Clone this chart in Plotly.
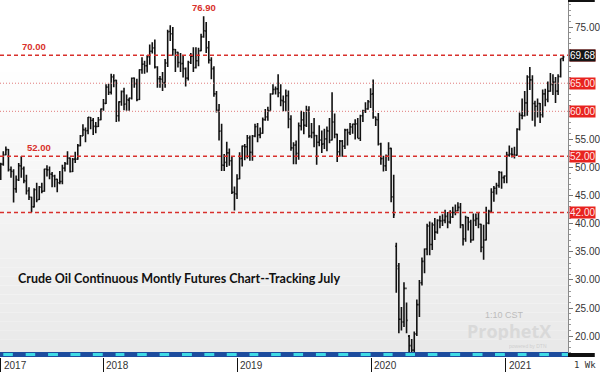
import pandas as pd
import plotly.graph_objects as go

# ---- weekly OHLC (Crude Oil continuous, tracking July) ----
first_week = "2017-03-27"

open_ = [
    # 2017
    47.9, 50.6, 52.3, 53.2, 49.6, 49.3, 46.2, 47.8, 50.3, 49.8, 47.6, 45.9, 44.7, 43.0, 46.1, 44.3, 46.5, 45.8, 49.7, 49.6,
    48.8, 48.5, 47.9, 47.3, 47.5, 49.9, 50.7, 51.7, 49.3, 51.5, 51.5, 53.9, 55.6, 56.7, 56.6, 58.9, 58.4, 57.3, 57.3, 58.5,
    # 2018
    60.4, 61.4, 64.3, 63.4, 66.1, 65.5, 59.2, 61.7, 63.5, 61.3, 62.0, 62.3, 65.9, 64.9, 62.1, 67.4, 68.4, 68.1, 69.7, 70.7,
    71.3, 67.9, 65.8, 65.7, 65.1, 68.6, 74.2, 73.8, 71.0, 70.5, 68.7, 68.5, 67.6, 65.9, 68.7, 69.8, 67.8, 69.0, 70.8, 73.3,
    74.3, 71.3, 69.1, 67.6, 63.1, 60.2, 56.5, 50.4, 50.9, 52.6, 51.2, 45.6, 45.3,
    # 2019
    48.0, 51.6, 53.8, 53.7, 55.3, 52.7, 55.6, 57.3, 55.8, 56.1, 58.5, 59.0, 60.1, 63.1, 63.9, 64.0, 63.3, 61.9, 61.7, 62.8,
    58.6, 53.5, 54.0, 52.5, 57.4, 58.5, 57.5, 60.2, 55.6, 56.2, 55.7, 54.5, 54.9, 54.2, 55.1, 56.5, 54.9, 58.1, 55.9, 52.8,
    54.7, 53.8, 56.7, 56.2, 57.2, 57.7, 57.8, 55.2, 59.2, 60.1, 60.4, 61.7,
    # 2020
    63.1, 59.0, 58.5, 54.2, 51.6, 50.3, 52.1, 53.4, 44.8, 36.0, 32.0, 23.0, 22.5, 28.5, 20.0, 18.3, 17.5, 20.4, 25.6, 29.5,
    33.3, 35.5, 39.6, 36.3, 39.8, 38.5, 40.6, 40.5, 40.6, 41.3, 40.3, 41.2, 42.0, 42.3, 42.9, 39.8, 37.3, 41.1, 40.3, 37.1,
    40.6, 40.9, 39.9, 35.8, 37.1, 40.1, 42.2, 45.6, 46.3, 46.8, 49.1, 48.2,
    # 2021
    48.5, 52.2, 52.4, 52.3, 52.2, 56.8, 59.3, 59.2, 61.5, 66.1, 65.6, 61.4, 60.9, 61.4, 59.4, 63.1, 62.1, 63.6, 64.8, 65.2,
    63.6, 66.2, 69.4,
]
high = [
    # 2017
    50.85, 52.9, 53.76, 53.3, 50.2, 49.7, 48.6, 50.8, 52.0, 50.2, 48.7, 46.5, 44.8, 46.3, 47.3, 46.7, 47.3, 49.8, 50.4, 50.2,
    49.2, 48.7, 48.0, 49.4, 50.5, 51.0, 52.9, 51.8, 51.7, 52.8, 54.2, 55.8, 57.7, 57.1, 59.0, 59.0, 58.8, 58.1, 59.0, 60.5,
    # 2018
    62.2, 64.8, 64.9, 66.7, 66.6, 65.6, 61.8, 63.7, 64.2, 63.0, 62.4, 66.0, 66.0, 65.8, 67.5, 69.6, 69.0, 70.0, 71.9, 72.3,
    72.8, 68.0, 66.3, 67.0, 69.3, 74.5, 75.3, 75.0, 71.1, 70.6, 70.4, 69.9, 67.8, 69.0, 70.4, 71.4, 71.4, 71.3, 73.8, 76.90,
    75.9, 72.5, 69.6, 68.0, 63.6, 61.3, 57.8, 52.4, 54.6, 53.4, 51.9, 46.6, 48.8,
    # 2019
    52.7, 53.9, 54.2, 55.8, 55.7, 55.8, 57.8, 57.9, 57.1, 58.9, 60.4, 60.8, 63.2, 64.8, 64.4, 66.6, 64.8, 62.8, 63.9, 63.7,
    59.3, 54.5, 54.8, 58.0, 60.1, 59.9, 61.0, 60.9, 57.9, 58.8, 55.8, 57.5, 56.6, 56.9, 57.3, 58.8, 63.4, 59.6, 56.0, 54.9,
    54.9, 56.9, 56.9, 57.9, 57.8, 58.6, 58.8, 59.4, 60.3, 61.6, 62.0, 64.1,
    # 2020
    65.65, 59.1, 59.7, 54.4, 52.1, 52.3, 54.5, 53.5, 48.7, 36.6, 33.0, 25.2, 29.6, 26.0, 20.2, 19.5, 20.8, 26.5, 30.0, 34.0,
    35.6, 40.0, 40.4, 40.2, 41.0, 40.8, 41.4, 41.7, 42.5, 42.1, 42.4, 43.0, 43.4, 43.8, 43.7, 39.9, 41.4, 41.2, 40.7, 41.8,
    41.8, 41.9, 40.0, 39.8, 43.0, 42.5, 46.3, 46.7, 47.3, 49.4, 49.3, 48.6,
    # 2021
    52.8, 53.9, 53.5, 53.7, 57.0, 59.8, 62.3, 63.6, 66.4, 67.9, 66.4, 61.9, 62.3, 61.5, 63.9, 64.0, 65.3, 66.8, 66.6, 66.1,
    66.6, 69.4, 70.0,
]
low = [
    # 2017
    47.8, 50.3, 52.2, 49.3, 48.2, 43.76, 45.5, 47.6, 48.2, 47.2, 45.2, 44.2, 42.05, 42.9, 43.8, 44.2, 45.4, 45.7, 48.4, 47.9,
    46.5, 46.5, 45.6, 47.0, 47.0, 49.3, 50.5, 49.1, 49.2, 50.8, 51.4, 53.8, 55.6, 54.5, 55.9, 56.8, 55.8, 56.1, 57.2, 58.4,
    # 2018
    60.1, 61.3, 62.9, 63.0, 64.3, 58.1, 58.2, 61.0, 60.2, 60.1, 60.1, 62.1, 64.2, 61.8, 62.0, 66.7, 66.7, 66.9, 68.3, 70.3,
    67.6, 64.2, 64.2, 63.6, 64.2, 67.9, 72.5, 69.9, 67.0, 67.8, 67.0, 66.0, 64.4, 65.5, 68.4, 67.0, 67.6, 68.0, 70.7, 73.1,
    70.4, 68.5, 65.7, 62.6, 59.8, 54.8, 49.4, 49.4, 50.1, 50.3, 45.3, 42.36, 44.4,
    # 2019
    47.9, 50.2, 51.3, 51.6, 51.2, 51.2, 55.4, 54.5, 55.2, 56.0, 58.3, 58.3, 60.1, 63.0, 63.0, 62.5, 60.9, 60.0, 60.0, 57.0,
    53.0, 50.6, 50.6, 51.4, 56.6, 55.9, 57.2, 55.3, 55.2, 53.6, 50.5, 53.8, 52.6, 53.3, 52.9, 54.3, 54.8, 55.2, 51.0, 51.9,
    51.9, 53.3, 53.9, 55.8, 56.0, 55.0, 55.2, 54.7, 58.1, 59.7, 60.3, 60.6,
    # 2020
    58.7, 57.4, 53.9, 50.5, 49.3, 49.4, 51.2, 43.8, 41.0, 27.7, 20.5, 21.0, 21.6, 20.5, 16.5, 16.5, 16.9, 20.0, 23.4, 29.0,
    31.2, 34.4, 34.4, 35.3, 37.1, 38.2, 39.2, 39.6, 40.1, 39.2, 40.0, 41.0, 41.5, 42.2, 39.2, 36.1, 36.8, 38.8, 36.6, 37.0,
    39.6, 39.2, 34.9, 33.6, 37.0, 39.9, 42.0, 43.9, 45.2, 46.4, 46.2, 47.2,
    # 2021
    47.2, 51.9, 51.8, 51.6, 52.1, 56.6, 58.6, 59.1, 59.2, 63.8, 58.3, 57.3, 58.9, 57.9, 58.9, 60.9, 61.6, 63.5, 62.9, 61.5,
    62.9, 66.0, 68.9,
]
close = [
    # 2017
    50.6, 52.24, 53.18, 49.62, 49.33, 46.22, 47.84, 50.33, 49.8, 47.66, 45.83, 44.74, 43.01, 46.04, 44.23, 46.54, 45.77, 49.71, 49.58, 48.82,
    48.51, 47.87, 47.29, 47.48, 49.89, 50.66, 51.67, 49.29, 51.45, 51.47, 53.90, 55.64, 56.74, 56.55, 58.95, 58.36, 57.36, 57.30, 58.47, 60.42,
    # 2018
    61.44, 64.30, 63.37, 66.14, 65.45, 59.20, 61.68, 63.55, 61.25, 62.04, 62.34, 65.88, 64.94, 62.06, 67.39, 68.38, 68.10, 69.72, 70.70, 71.28,
    67.88, 65.81, 65.74, 65.06, 68.58, 74.15, 73.80, 71.01, 70.46, 68.69, 68.49, 67.63, 65.91, 68.72, 69.80, 67.75, 68.99, 70.78, 73.25, 74.34,
    71.34, 69.12, 67.59, 63.14, 60.19, 56.46, 50.42, 50.93, 52.61, 51.20, 45.59, 45.33, 47.96,
    # 2019
    51.59, 53.80, 53.69, 55.26, 52.72, 55.59, 57.26, 55.80, 56.07, 58.52, 59.04, 60.14, 63.08, 63.89, 64.00, 63.30, 61.94, 61.66, 62.76, 58.63,
    53.50, 53.99, 52.51, 57.43, 58.47, 57.51, 60.21, 55.63, 56.20, 55.66, 54.50, 54.87, 54.17, 55.10, 56.52, 54.85, 58.09, 55.91, 52.81, 54.70,
    53.78, 56.66, 56.20, 57.24, 57.72, 57.77, 55.17, 59.20, 60.07, 60.44, 61.72, 63.05,
    # 2020
    59.04, 58.54, 54.19, 51.56, 50.32, 52.05, 53.38, 44.76, 41.6, 32.5, 23.0, 22.5, 28.5, 22.8, 18.3, 17.5, 20.4, 25.6, 29.5, 33.3,
    35.5, 39.6, 36.3, 39.8, 38.5, 40.6, 40.5, 40.6, 41.3, 40.3, 41.2, 42.0, 42.3, 42.9, 39.8, 37.3, 41.1, 40.3, 37.1, 40.6,
    40.9, 39.9, 35.8, 37.1, 40.1, 42.2, 45.6, 46.3, 46.8, 49.1, 48.2, 48.5,
    # 2021
    52.2, 52.4, 52.3, 52.2, 56.8, 59.3, 59.2, 61.5, 66.1, 65.6, 61.4, 60.9, 61.4, 59.4, 63.1, 62.1, 63.6, 64.8, 65.2, 63.6,
    66.2, 69.4, 69.68,
]

year_ticks = ["2017-03-27", "2018-01-01", "2019-01-01", "2020-01-01", "2021-01-01"]
year_labels = ["2017", "2018", "2019", "2020", "2021"]
price_ticks = [20, 25, 30, 35, 40, 45, 50, 55, 60, 65, 70, 75]
dashed_levels = [70, 52, 42]
dotted_levels = [65, 60]
left_level_labels = [70, 52]
last_price = close[-1]

dates = pd.date_range(first_week, periods=len(close), freq="7D")

RED = "#d8302c"
W_PLOT = 573
H_PLOT = 357
X_RANGE = ["2017-03-25", "2021-06-20"]
Y_RANGE = [16.28, 79.81]


def py(px):
    """pixel row (from top of figure) -> paper y"""
    return (H_PLOT - px) / H_PLOT


fig = go.Figure()
fig.add_trace(go.Ohlc(
    x=dates, open=open_, high=high, low=low, close=close,
    increasing=dict(line=dict(color="#111111", width=1.6)),
    decreasing=dict(line=dict(color="#111111", width=1.6)),
    tickwidth=0.45, hoverinfo="skip", showlegend=False,
))

shapes = []
# background gradient (white -> light grey)
n = 40
for i in range(n):
    t = i / n  # 0 bottom -> 1 top
    g = int(233 + (255 - 233) * min(1.0, t * 1.25))
    shapes.append(dict(type="rect", xref="paper", yref="paper", x0=0, x1=1,
                       y0=t, y1=(i + 1) / n, fillcolor=f"rgb({g},{g},{g})",
                       line=dict(width=0), layer="below"))

# horizontal level lines
for lv in dashed_levels:
    shapes.append(dict(type="line", xref="paper", yref="y", x0=0, x1=1, y0=lv, y1=lv,
                       line=dict(color=RED, width=1.5, dash="4px,3px"), layer="above"))
for lv in dotted_levels:
    shapes.append(dict(type="line", xref="paper", yref="y", x0=0, x1=1, y0=lv, y1=lv,
                       line=dict(color="#e07a7a", width=1, dash="1px,2px"), layer="above"))

# bottom month band
band_h = 5 / H_PLOT
shapes.append(dict(type="rect", xref="paper", yref="paper", x0=0, x1=1, y0=0, y1=band_h,
                   fillcolor="#1d4c9e", line=dict(width=0), layer="above"))
months = pd.date_range("2017-03-01", "2021-07-01", freq="MS")
for k in range(len(months) - 1):
    if k % 2 == 1:
        shapes.append(dict(type="rect", xref="x", yref="paper",
                           x0=max(months[k], pd.Timestamp(X_RANGE[0])) + pd.Timedelta(days=2),
                           x1=months[k + 1] - pd.Timedelta(days=2),
                           y0=1 / H_PLOT, y1=band_h - 1 / H_PLOT,
                           fillcolor="#3fdbe6", line=dict(width=0), layer="above"))
# right corner black bars
shapes.append(dict(type="rect", xref="paper", yref="paper", x0=1, x1=600 / W_PLOT,
                   y0=0, y1=4 / H_PLOT, fillcolor="#111111", line=dict(width=0)))
shapes.append(dict(type="rect", xref="paper", yref="paper", x0=1, x1=600 / W_PLOT,
                   y0=1 - 2 / H_PLOT, y1=1, fillcolor="#111111", line=dict(width=0)))

annotations = []
# year labels (right of tick marks)
for d, lab in zip(year_ticks, year_labels):
    annotations.append(dict(xref="x", yref="paper", x=d, y=py(366), text=lab,
                            xanchor="left", yanchor="middle", xshift=1, showarrow=False,
                            font=dict(family="Liberation Sans, Arial", size=10, color="#333333")))
annotations.append(dict(xref="paper", yref="paper", x=1, y=py(365), text="1 Wk",
                        xanchor="left", yanchor="middle", xshift=4, showarrow=False,
                        font=dict(family="DejaVu Sans Mono", size=9, color="#333333")))

# level labels on the left
left_pos = {70: 34, 52: 39}
for lv in left_level_labels:
    annotations.append(dict(xref="paper", yref="y", x=left_pos[lv] / W_PLOT, y=lv, yshift=9,
                            xanchor="center", yanchor="middle",
                            text=f"<b>{lv:.2f}</b>", showarrow=False,
                            font=dict(family="Liberation Sans, Arial", size=9.5, color=RED)))
# peak label
imax = max(range(len(high)), key=lambda i: high[i])
annotations.append(dict(xref="x", yref="y", x=dates[imax], y=high[imax], yshift=9,
                        xanchor="center", yanchor="middle",
                        text=f"<b>{high[imax]:.2f}</b>", showarrow=False,
                        font=dict(family="Liberation Sans, Arial", size=9.5, color=RED)))

# right-side price boxes
for lv in dashed_levels + dotted_levels:
    annotations.append(dict(xref="paper", yref="y", x=1, y=lv, xanchor="left", yanchor="middle",
                            xshift=1, text=f"{lv:.2f}", showarrow=False, bgcolor="#e8231f",
                            width=25, align="left", borderpad=0,
                            font=dict(family="Liberation Sans, Arial", size=10, color="#ffe8e8")))
annotations.append(dict(xref="paper", yref="y", x=1, y=last_price, yshift=1.5, xanchor="left",
                        yanchor="middle", xshift=1, text=f"{last_price:.2f}", showarrow=False,
                        bgcolor="#151515", width=25, align="left", borderpad=0,
                        font=dict(family="Liberation Sans, Arial", size=10, color="#ffffff")))

# title text
annotations.append(dict(xref="paper", yref="paper", x=16 / W_PLOT, y=py(278),
                        xanchor="left", yanchor="middle", showarrow=False,
                        text="<b>Crude Oil Continuous Montly Futures Chart--Tracking July</b>",
                        font=dict(family="Lato", size=12.5, color="#111111")))
# watermark
annotations.append(dict(xref="paper", yref="paper", x=509 / W_PLOT, y=py(314),
                        xanchor="center", yanchor="middle", text="1:10 CST", showarrow=False,
                        height=11,
                        font=dict(family="Liberation Sans, Arial", size=9, color="#bcbcbc")))
annotations.append(dict(xref="paper", yref="paper", x=513 / W_PLOT, y=py(331),
                        xanchor="center", yanchor="middle", text="<b>ProphetX</b>", showarrow=False,
                        height=18, valign="middle",
                        font=dict(family="Open Sans", size=18, color="#d9d9d9")))
annotations.append(dict(xref="paper", yref="paper", x=533 / W_PLOT, y=py(345),
                        xanchor="center", yanchor="middle", text="powered by DTN", showarrow=False,
                        height=7,
                        font=dict(family="Liberation Sans, Arial", size=5, color="#cfcfcf")))

covered = set(dashed_levels + dotted_levels)
fig.update_layout(
    width=600, height=372,
    margin=dict(l=0, r=600 - W_PLOT, t=0, b=372 - H_PLOT),
    paper_bgcolor="white", plot_bgcolor="white",
    shapes=shapes, annotations=annotations,
    showlegend=False,
    xaxis=dict(type="date", range=X_RANGE, rangeslider=dict(visible=False),
               showgrid=False, zeroline=False, showline=False,
               tickvals=year_ticks, ticks="outside", ticklen=15, tickcolor="#111111",
               tickwidth=1, showticklabels=False),
    yaxis=dict(side="right", range=Y_RANGE, showgrid=False, zeroline=False,
               showline=True, linecolor="#8a8a8a", linewidth=1,
               tickvals=price_ticks,
               ticktext=["" if v in covered else f"{v:.2f}" for v in price_ticks],
               ticks="outside", ticklen=4, tickcolor="#777777",
               minor=dict(dtick=1, ticks="outside", ticklen=2, tickcolor="#999999"),
               tickfont=dict(family="Liberation Sans, Arial", size=10, color="#333333")),
)

fig.write_html(
    "out.html",
    config={"displayModeBar": False},
    post_script="document.body.style.margin='0';document.body.style.overflow='hidden';",
)
